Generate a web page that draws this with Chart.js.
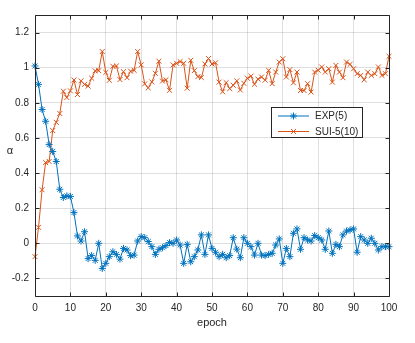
<!DOCTYPE html>
<html>
<head>
<meta charset="utf-8">
<script src="https://cdn.jsdelivr.net/npm/chart.js@4.4.1/dist/chart.umd.min.js"></script>
<style>
  html, body { margin: 0; padding: 0; background: #ffffff; }
  #wrap { width: 415px; height: 343px; position: relative; }
  canvas { display: block; }
</style>
</head>
<body>
<div id="wrap"><canvas id="c" width="415" height="343" style="width:415px;height:343px"></canvas></div>
<script>
// ---------- data ----------
const seriesNames = ['EXP(5)', 'SUI-5(10)'];
const epochs = Array.from({length: 101}, (_, i) => i);
const expValues = [
  1.01, 0.905, 0.762, 0.695, 0.562, 0.523, 0.466, 0.308, 0.261, 0.27,
  0.267, 0.175, 0.042, 0.013, 0.066, -0.087, -0.07, -0.097, 0.0, -0.143,
  -0.114, -0.076, -0.048, -0.063, -0.09, -0.029, -0.038, -0.07, -0.067, 0.013,
  0.038, 0.032, 0.01, -0.019, -0.063, -0.034, -0.025, -0.013, 0.004, 0.0,
  0.019, -0.01, -0.114, -0.006, -0.105, -0.076, -0.038, 0.048, -0.063, 0.048,
  -0.029, -0.051, -0.076, -0.063, -0.082, -0.07, 0.032, -0.033, -0.082, 0.032,
  0.0, -0.019, -0.067, 0.0, -0.067, -0.07, -0.063, -0.057, -0.01, 0.025,
  -0.114, -0.029, -0.076, 0.057, 0.082, -0.034, 0.032, 0.019, 0.013, 0.044,
  0.032, 0.019, -0.034, 0.07, -0.057, -0.006, -0.019, 0.048, 0.07, 0.076,
  0.082, -0.051, 0.038, 0.019, 0.0, 0.029, 0.0, -0.038, -0.019, -0.019,
  -0.019
];
const suiValues = [
  -0.076, 0.091, 0.305, 0.46, 0.466, 0.642, 0.689, 0.739, 0.866, 0.83,
  0.868, 0.93, 0.847, 0.925, 0.905, 0.895, 0.94, 0.982, 0.983, 1.092,
  0.973, 0.928, 1.008, 1.01, 0.932, 0.977, 0.943, 0.98, 0.985, 1.092,
  1.016, 0.908, 0.885, 0.919, 0.968, 1.037, 0.924, 0.931, 0.871, 1.016,
  1.025, 1.035, 1.025, 0.883, 1.042, 0.983, 0.949, 0.944, 1.021, 1.052,
  1.021, 1.028, 0.918, 0.863, 0.915, 0.881, 0.9, 0.925, 0.873, 0.911,
  0.94, 0.952, 0.906, 0.935, 0.947, 0.929, 0.985, 0.909, 0.975, 1.032,
  1.051, 0.947, 0.989, 0.914, 0.975, 0.87, 0.87, 0.909, 0.861, 0.975,
  0.985, 1.004, 0.975, 0.994, 0.918, 1.013, 0.975, 0.943, 1.032, 1.019,
  0.994, 0.966, 0.956, 0.931, 0.975, 0.956, 0.966, 1.004, 0.956, 0.966,
  1.065
];
const xTicks = [0, 10, 20, 30, 40, 50, 60, 70, 80, 90, 100];
const yTicks = [-0.2, 0, 0.2, 0.4, 0.6, 0.8, 1, 1.2];
const yTickLabels = ['-0.2', '0', '0.2', '0.4', '0.6', '0.8', '1', '1.2'];
const xTitle = 'epoch';
const yTitle = 'α';

// ---------- style ----------
const FONT = '"Liberation Sans", Arial, Helvetica, sans-serif';
const AXIS = '#262626';
const GRID = 'rgba(38,38,38,0.15)';
const BLUE = '#0072BD';
const ORANGE = '#D95319';

const toPoints = (vals) => epochs.map((e, i) => ({x: e, y: vals[i]}));

const matlabPlugin = {
  id: 'matlabBox',
  afterDraw(chart) {
    const ctx = chart.ctx;
    const a = chart.chartArea;
    const xs = chart.scales.x, ys = chart.scales.y;
    const L = Math.round(a.left) + 0.5, R = Math.round(a.right) + 0.5;
    const T = Math.round(a.top) + 0.5, B = Math.round(a.bottom) + 0.5;
    ctx.save();
    ctx.strokeStyle = AXIS;
    ctx.lineWidth = 1;
    ctx.beginPath();
    ctx.rect(L, T, R - L, B - T);
    ctx.stroke();
    const tl = 4;
    ctx.beginPath();
    xTicks.forEach(v => {
      const px = Math.round(xs.getPixelForValue(v)) + 0.5;
      ctx.moveTo(px, B); ctx.lineTo(px, B - tl);
      ctx.moveTo(px, T); ctx.lineTo(px, T + tl);
    });
    yTicks.forEach(v => {
      const py = Math.round(ys.getPixelForValue(v)) + 0.5;
      ctx.moveTo(L, py); ctx.lineTo(L + tl, py);
      ctx.moveTo(R, py); ctx.lineTo(R - tl, py);
    });
    ctx.stroke();

    // y label
    ctx.fillStyle = AXIS;
    ctx.font = '11px ' + FONT;
    ctx.textAlign = 'center';
    ctx.textBaseline = 'middle';
    ctx.fillText(yTitle, 10, (a.top + a.bottom) / 2 - 5);

    // legend
    const lx = 271.5, ly = 107.5, lw = 91, lh = 30;
    ctx.fillStyle = '#ffffff';
    ctx.fillRect(lx, ly, lw, lh);
    ctx.strokeStyle = AXIS;
    ctx.strokeRect(lx, ly, lw, lh);
    chart.data.datasets.forEach((ds, i) => {
      const yy = 116 + i * 15.5;
      ctx.strokeStyle = ds.borderColor;
      ctx.lineWidth = 1;
      ctx.beginPath();
      ctx.moveTo(278, yy); ctx.lineTo(309, yy);
      ctx.stroke();
      Chart.helpers.drawPoint(ctx, {pointStyle: ds.pointStyle, radius: ds.pointRadius, rotation: 0, borderWidth: 1}, 293.5, yy);
      ctx.fillStyle = AXIS;
      ctx.font = '10px ' + FONT;
      ctx.textAlign = 'left';
      ctx.textBaseline = 'middle';
      ctx.fillText(ds.label, 315, yy + 0.5);
    });
    ctx.restore();
  }
};

new Chart(document.getElementById('c'), {
  type: 'line',
  data: {
    datasets: [
      {label: seriesNames[0], data: toPoints(expValues), borderColor: BLUE, backgroundColor: BLUE,
       borderWidth: 1, pointStyle: 'star', pointRadius: 3.5, pointBorderWidth: 1, pointBorderColor: BLUE,
       tension: 0, fill: false, clip: false},
      {label: seriesNames[1], data: toPoints(suiValues), borderColor: ORANGE, backgroundColor: ORANGE,
       borderWidth: 1, pointStyle: 'crossRot', pointRadius: 3.5, pointBorderWidth: 1, pointBorderColor: ORANGE,
       tension: 0, fill: false, clip: false}
    ]
  },
  options: {
    responsive: false,
    animation: false,
    devicePixelRatio: 1,
    layout: {padding: {top: 15, right: 26, left: 0, bottom: 0}},
    plugins: {legend: {display: false}, tooltip: {enabled: false}, title: {display: false}},
    scales: {
      x: {
        type: 'linear', min: 0, max: 100,
        afterBuildTicks(s) { s.ticks = xTicks.map(v => ({value: v})); },
        afterFit(s) { s.height = 47; },
        grid: {color: GRID, lineWidth: 1, drawTicks: false},
        border: {display: false},
        ticks: {font: {family: FONT, size: 10}, color: AXIS, padding: 6, maxRotation: 0, autoSkip: false,
                callback: (v) => String(v)},
        title: {display: true, text: xTitle, font: {family: FONT, size: 11}, color: AXIS, padding: {top: 0, bottom: 13}}
      },
      y: {
        type: 'linear', min: -0.3, max: 1.3,
        afterBuildTicks(s) { s.ticks = yTicks.map(v => ({value: v})); },
        afterFit(s) { s.width = 35; },
        grid: {color: GRID, lineWidth: 1, drawTicks: false},
        border: {display: false},
        ticks: {font: {family: FONT, size: 10}, color: AXIS, padding: 6, autoSkip: false,
                callback: (v, i) => yTickLabels[i]}
      }
    }
  },
  plugins: [matlabPlugin]
});
</script>
</body>
</html>
